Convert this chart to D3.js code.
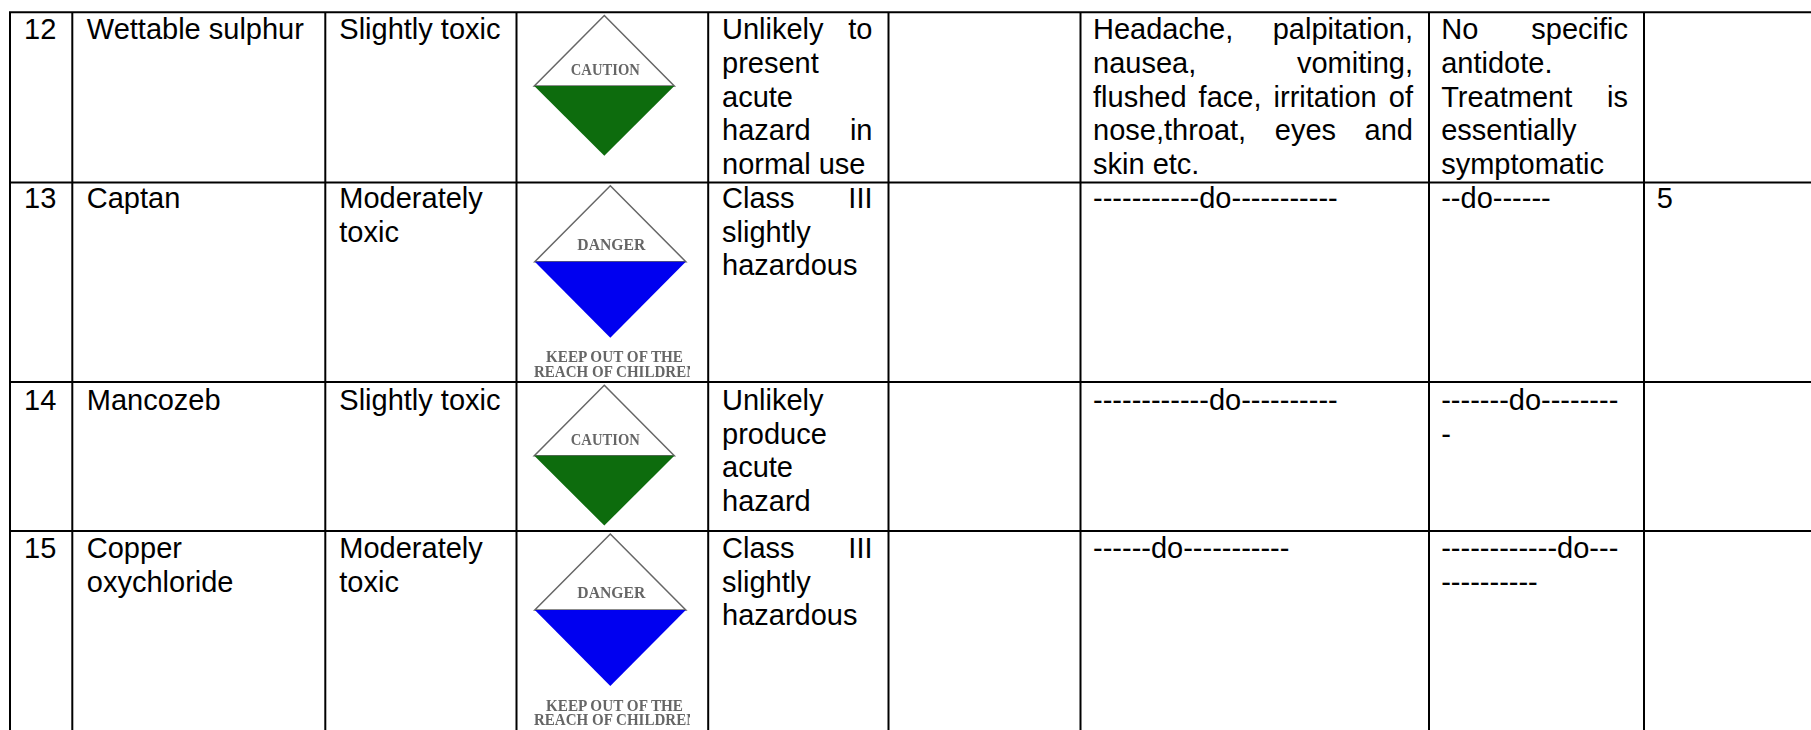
<!DOCTYPE html>
<html>
<head>
<meta charset="utf-8">
<script src="https://cdn.jsdelivr.net/npm/d3@7"></script>
<style>
  html, body { margin: 0; padding: 0; background: #fff; }
  svg { display: block; }
</style>
</head>
<body>
<svg id="table"></svg>
<script>
// --- Table content ---
const rowNumbers = ["12", "13", "14", "15"];
const chemicals = [["Wettable sulphur"], ["Captan"], ["Mancozeb"], ["Copper", "oxychloride"]];
const toxicity = [["Slightly toxic"], ["Moderately", "toxic"], ["Slightly toxic"], ["Moderately", "toxic"]];
const signs = ["caution", "danger", "caution", "danger"];
const hazardClass = [
  ["Unlikely to", "present", "acute", "hazard in", "normal use"],
  ["Class III", "slightly", "hazardous"],
  ["Unlikely", "produce", "acute", "hazard"],
  ["Class III", "slightly", "hazardous"]
];
const blankColumn = [[], [], [], []];
const symptoms = [
  ["Headache, palpitation,", "nausea, vomiting,", "flushed face, irritation of", "nose,throat, eyes and", "skin etc."],
  ["-----------do-----------"],
  ["------------do----------"],
  ["------do-----------"]
];
const antidote = [
  ["No specific", "antidote.", "Treatment is", "essentially", "symptomatic"],
  ["--do------"],
  ["-------do--------", "-"],
  ["------------do---", "----------"]
];
const lastColumn = [[], ["5"], [], []];
const signWarning = ["KEEP OUT OF THE", "REACH OF CHILDREN"];

// --- Layout ---
const width = 1811, height = 730;
const columnEdges = [10, 72.3, 325.3, 516.5, 708.2, 888.5, 1080.5, 1429, 1644, 1811];
const columnInset = [14, 14.5, 14, 0, 13.8, 0, 12.5, 12.2, 12.7];
const rowEdges = [12.3, 182.5, 382, 531, 730];
const firstBaseline = [39.3, 208, 410, 558];
const lineHeight = 33.7;
const fontSize = 29;
const padRight = 16;

const columns = [rowNumbers.map(d => [d]), chemicals, toxicity, null, hazardClass, blankColumn, symptoms, antidote, lastColumn];

const svg = d3.select("#table").attr("width", width).attr("height", height);
svg.append("rect").attr("width", width).attr("height", height).attr("fill", "#fff");

const defs = svg.append("defs");
defs.append("filter").attr("id", "soft").append("feGaussianBlur").attr("stdDeviation", 0.5);

// --- Cell text ---
const measure = svg.append("text")
  .attr("font-family", "'Liberation Sans', Arial, sans-serif")
  .attr("font-size", fontSize)
  .attr("visibility", "hidden");
const textWidth = s => { measure.text(s); return measure.node().getComputedTextLength(); };

const textLayer = svg.append("g")
  .attr("font-family", "'Liberation Sans', Arial, sans-serif")
  .attr("font-size", fontSize)
  .attr("fill", "#000");

columns.forEach((col, c) => {
  if (!col) return;
  const x0 = columnEdges[c] + columnInset[c];
  const x1 = columnEdges[c + 1] - padRight;
  col.forEach((lines, r) => {
    lines.forEach((line, l) => {
      const y = firstBaseline[r] + l * lineHeight;
      const words = line.split(" ");
      // justified paragraphs: every line but the last is spread to the cell width
      if (l === lines.length - 1 || words.length === 1) {
        textLayer.append("text").attr("x", x0).attr("y", y).text(line);
        return;
      }
      const total = d3.sum(words, textWidth);
      const gap = (x1 - x0 - total) / (words.length - 1);
      let x = x0;
      words.forEach(w => {
        textLayer.append("text").attr("x", x).attr("y", y).text(w);
        x += textWidth(w) + gap;
      });
    });
  });
});
measure.remove();

// --- Warning signs ---
const signStyles = {
  caution: { label: "CAUTION", fill: "#0d6c0d", cx: 604.3, halfWidth: 70, up: 70.5, down: 69.7, labelDy: -11, labelLength: 69, warning: false },
  danger: { label: "DANGER", fill: "#0000f0", cx: 610.3, halfWidth: 75.5, up: 76, down: 76, labelDy: -11.7, labelLength: 68, warning: true }
};
const signTops = [15.5, 185.7, 385.3, 534];
const warningStart = [546, 534];
const warningLength = [137, 163];
const warningDy = [100.7, 115];
const signClipRight = 690;
const diamond = d3.line();

defs.append("clipPath").attr("id", "signClip")
  .append("rect").attr("x", 517).attr("y", 0)
  .attr("width", signClipRight - 517).attr("height", height);

signs.forEach((kind, r) => {
  const s = signStyles[kind];
  const mid = signTops[r] + s.up;
  const g = svg.append("g").attr("filter", "url(#soft)");
  g.append("path")
    .attr("d", diamond([[s.cx, mid - s.up], [s.cx + s.halfWidth, mid], [s.cx - s.halfWidth, mid]]) + "Z")
    .attr("fill", "#fff").attr("stroke", "#666").attr("stroke-width", 1.5);
  g.append("path")
    .attr("d", diamond([[s.cx - s.halfWidth, mid], [s.cx + s.halfWidth, mid], [s.cx, mid + s.down]]) + "Z")
    .attr("fill", s.fill);
  g.append("text")
    .attr("x", s.cx - s.labelLength / 2 + 1).attr("y", mid + s.labelDy)
    .attr("textLength", s.labelLength).attr("lengthAdjust", "spacingAndGlyphs")
    .attr("font-family", "'Liberation Serif', serif")
    .attr("font-weight", "bold")
    .attr("font-size", 17.5)
    .attr("fill", "#666")
    .text(s.label);
  if (s.warning) {
    signWarning.forEach((t, i) => {
      g.append("text")
        .attr("x", warningStart[i]).attr("y", mid + warningDy[i])
        .attr("textLength", warningLength[i]).attr("lengthAdjust", "spacingAndGlyphs")
        .attr("clip-path", "url(#signClip)")
        .attr("font-family", "'Liberation Serif', serif")
        .attr("font-weight", "bold")
        .attr("font-size", 17.5)
        .attr("fill", "#666")
        .text(t);
    });
  }
});

// --- Grid lines ---
const grid = svg.append("g").attr("stroke", "#000").attr("stroke-width", 2);
grid.selectAll(".h").data(rowEdges.slice(0, 4)).join("line")
  .attr("x1", columnEdges[0] - 1).attr("x2", width)
  .attr("y1", d => d).attr("y2", d => d);
grid.selectAll(".v").data(columnEdges.slice(0, 9)).join("line")
  .attr("x1", d => d).attr("x2", d => d)
  .attr("y1", rowEdges[0]).attr("y2", height);
</script>
</body>
</html>
